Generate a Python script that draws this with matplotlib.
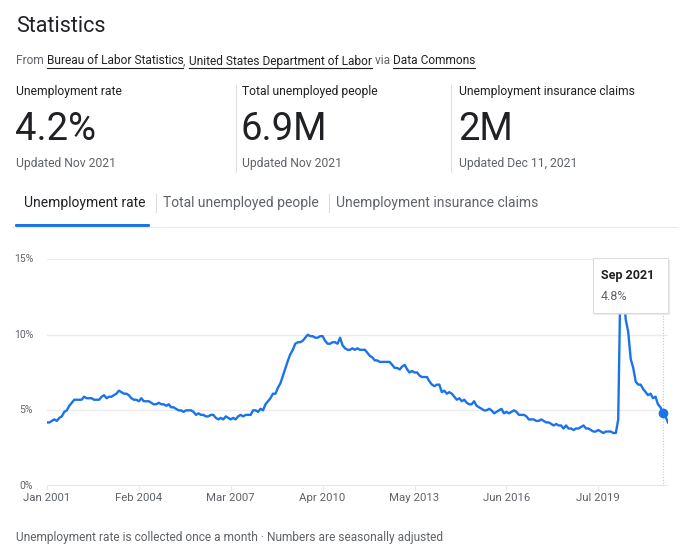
import matplotlib
matplotlib.use("Agg")
import matplotlib.pyplot as plt
from matplotlib.patches import FancyBboxPatch, Rectangle
import pandas as pd

plt.rcParams['font.family'] = ['Roboto', 'DejaVu Sans']

# monthly unemployment rate (%), Jan 2001 .. Nov 2021
rate = [
    4.2, 4.2, 4.3, 4.4, 4.3, 4.5, 4.6, 4.9, 5.0, 5.3, 5.5, 5.7,
    5.7, 5.7, 5.7, 5.9, 5.8, 5.8, 5.8, 5.7, 5.7, 5.7, 5.9, 6.0,
    5.8, 5.9, 5.9, 6.0, 6.1, 6.3, 6.2, 6.1, 6.1, 6.0, 5.8, 5.7,
    5.7, 5.6, 5.8, 5.6, 5.6, 5.6, 5.5, 5.4, 5.4, 5.5, 5.4, 5.4,
    5.3, 5.4, 5.2, 5.2, 5.1, 5.0, 5.0, 4.9, 5.0, 5.0, 5.0, 4.9,
    4.7, 4.8, 4.7, 4.7, 4.6, 4.6, 4.7, 4.7, 4.5, 4.4, 4.5, 4.4,
    4.6, 4.5, 4.4, 4.5, 4.4, 4.6, 4.7, 4.6, 4.7, 4.7, 4.7, 5.0,
    5.0, 4.9, 5.1, 5.0, 5.4, 5.6, 5.8, 6.1, 6.1, 6.5, 6.8, 7.3,
    7.8, 8.3, 8.7, 9.0, 9.4, 9.5, 9.5, 9.6, 9.8, 10.0, 9.9, 9.9,
    9.8, 9.8, 9.9, 9.9, 9.6, 9.4, 9.4, 9.5, 9.5, 9.4, 9.8, 9.3,
    9.1, 9.0, 9.0, 9.1, 9.0, 9.1, 9.0, 9.0, 9.0, 8.8, 8.6, 8.5,
    8.3, 8.3, 8.2, 8.2, 8.2, 8.2, 8.2, 8.0, 7.8, 7.8, 7.7, 7.9,
    8.0, 7.7, 7.5, 7.6, 7.5, 7.5, 7.3, 7.2, 7.2, 7.2, 6.9, 6.7,
    6.6, 6.7, 6.7, 6.2, 6.3, 6.1, 6.2, 6.1, 5.9, 5.7, 5.8, 5.6,
    5.7, 5.5, 5.4, 5.4, 5.6, 5.3, 5.2, 5.1, 5.0, 5.0, 5.1, 5.0,
    4.8, 4.9, 5.0, 5.1, 4.8, 4.9, 4.8, 4.9, 5.0, 4.9, 4.7, 4.7,
    4.7, 4.6, 4.4, 4.4, 4.4, 4.3, 4.3, 4.4, 4.3, 4.2, 4.2, 4.1,
    4.0, 4.1, 4.0, 4.0, 3.8, 4.0, 3.8, 3.8, 3.7, 3.8, 3.8, 3.9,
    4.0, 3.8, 3.8, 3.7, 3.6, 3.6, 3.7, 3.6, 3.5, 3.6, 3.6, 3.6,
    3.5, 3.5, 4.4, 14.8, 13.2, 11.0, 10.2, 8.4, 7.8, 6.9, 6.7, 6.7,
    6.4, 6.2, 6.0, 6.1, 5.8, 5.9, 5.4, 5.2, 4.8, 4.6, 4.2,
]
months = pd.date_range("2001-01-01", periods=len(rate), freq="MS")

xtick_labels = ["Jan 2001", "Feb 2004", "Mar 2007", "Apr 2010", "May 2013", "Jun 2016", "Jul 2019"]
yticks = [0, 5, 10, 15]

stat_titles = ["Unemployment rate", "Total unemployed people", "Unemployment insurance claims"]
stat_values = ["4.2%", "6.9M", "2M"]
stat_updated = ["Updated Nov 2021", "Updated Nov 2021", "Updated Dec 11, 2021"]
tabs = ["Unemployment rate", "Total unemployed people", "Unemployment insurance claims"]

hover_label = "Sep 2021"
hover_value = 4.8

W, H = 691, 556
BLUE = "#1a73e8"
DARK = "#202124"
GRAY = "#5f6368"

fig = plt.figure(figsize=(W / 100, H / 100), dpi=100)


def px(x, y):
    return x / W, 1 - y / H


# header
fig.text(*px(16, 26), "Statistics", fontsize=15.5, color=DARK, va="center")

x = 16
parts = [("From ", GRAY, False), ("Bureau of Labor Statistics", DARK, True), (", ", GRAY, False),
         ("United States Department of Labor", DARK, True), (" via ", GRAY, False),
         ("Data Commons", DARK, True)]
for s, c, ul in parts:
    t = fig.text(*px(x, 61), s, fontsize=8.6, color=c, va="center")
    fig.canvas.draw()
    bb = t.get_window_extent()
    if ul:
        yl = 1 - 68 / H
        fig.add_artist(plt.Line2D([bb.x0 / W, bb.x1 / W], [yl, yl],
                                  transform=fig.transFigure, color=c, lw=0.8))
    x = bb.x1

col_x = [16, 242, 459]
for i in range(3):
    fig.text(*px(col_x[i], 91), stat_titles[i], fontsize=8.7, color=DARK, va="center")
    fig.text(*px(col_x[i] - 1, 129), stat_values[i], fontsize=27.5, color=DARK, va="center")
    fig.text(*px(col_x[i], 164), stat_updated[i], fontsize=8.7, color=GRAY, va="center")
for xd in [236, 451]:
    fig.add_artist(plt.Line2D([xd / W, xd / W], [1 - 85 / H, 1 - 172 / H],
                              transform=fig.transFigure, color="#e0e0e0", lw=0.8))

# tabs
tab_x = [24, 163, 336]
for i, s in enumerate(tabs):
    fig.text(*px(tab_x[i], 203), s, fontsize=10, color=DARK if i == 0 else GRAY, va="center")
for xs in [156, 329]:
    fig.add_artist(plt.Line2D([xs / W, xs / W], [1 - 194 / H, 1 - 212 / H],
                              transform=fig.transFigure, color="#dadce0", lw=0.8))
fig.add_artist(plt.Line2D([12 / W, 677 / W], [1 - 227 / H, 1 - 227 / H],
                          transform=fig.transFigure, color="#e8eaed", lw=0.8))
fig.add_artist(FancyBboxPatch((15 / W, 1 - 227 / H), 135 / W, 3 / H,
                              boxstyle="round,pad=0,rounding_size=0.002",
                              transform=fig.transFigure, color=BLUE, lw=0))

# chart
ax = fig.add_axes([47 / W, 1 - 486 / H, (668 - 47) / W, (486 - 259) / H])
ax.plot(months, rate, color=BLUE, lw=1.7, solid_joinstyle="round", zorder=3)
ax.set_xlim(months[0], months[-1])
ax.set_ylim(0, 15)
ax.set_yticks(yticks)
ax.set_yticklabels([f"{v}%" for v in yticks])
ax.set_xticks(pd.to_datetime(xtick_labels, format="%b %Y"))
ax.set_xticklabels(xtick_labels)
ax.grid(axis="y", color="#ebebeb", lw=1)
ax.axhline(0, color="#e6e6e6", lw=1.5, zorder=1)
for s in ax.spines.values():
    s.set_visible(False)
ax.tick_params(axis="y", length=0, pad=10, labelsize=7.5, labelcolor=GRAY)
ax.tick_params(axis="x", length=3, color="#e6e6e6", pad=2, labelsize=8.2, labelcolor=GRAY)
for lbl in ax.get_yticklabels():
    lbl.set_verticalalignment("center")

# hover
hx = pd.to_datetime(hover_label, format="%b %Y")
ax.plot([hx, hx], [0, 11.4], color="#c8c8c8", lw=0.8, ls=(0, (1, 1.5)), zorder=2)
ax.plot([hx], [hover_value], "o", color=BLUE, ms=6, zorder=4)

fig.add_artist(Rectangle((595 / W, 1 - 315 / H), 75 / W, 55 / H, transform=fig.transFigure,
                         facecolor="#d8d8d8", edgecolor="none", alpha=0.5, zorder=9))
fig.add_artist(Rectangle((593 / W, 1 - 313 / H), 75 / W, 55 / H, transform=fig.transFigure,
                         facecolor="white", edgecolor="#dcdcdc", lw=0.8, zorder=10))
fig.text(*px(601, 275), hover_label, fontsize=9, fontweight="bold", color=DARK, va="center", zorder=11)
fig.text(*px(601, 297), f"{hover_value}%", fontsize=9, color=GRAY, va="center", zorder=11)

# footer
fig.text(*px(16, 537), "Unemployment rate is collected once a month \u00b7 Numbers are seasonally adjusted",
         fontsize=8.6, color=GRAY, va="center")

fig.savefig("out.png", dpi=100)
